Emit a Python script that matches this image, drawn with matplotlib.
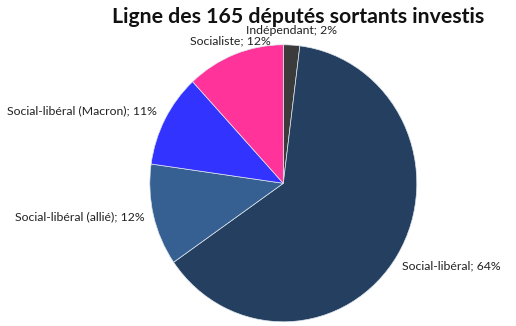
import matplotlib
matplotlib.use("Agg")
import matplotlib.pyplot as plt

title = "Ligne des 165 députés sortants investis"
categories = ["Indépendant", "Social-libéral", "Social-libéral (allié)",
              "Social-libéral (Macron)", "Socialiste"]
shares = [2, 64, 12, 11, 12]
colors = ["#3b3b3b", "#243f60", "#376092", "#3333ff", "#ff3399"]

W, H = 516, 326
fig = plt.figure(figsize=(W / 100, H / 100), dpi=100)
plt.rcParams["font.family"] = ["Lato", "DejaVu Sans"]

# pie centre and radii in pixels
cx, cy, rx, ry = 283.3, 183.3, 133.5, 138.5
ax = fig.add_axes([(cx - rx) / W, (H - cy - ry) / H, 2 * rx / W, 2 * ry / H])
ax.pie(shares, colors=colors, startangle=90, counterclock=False, radius=1,
       wedgeprops=dict(edgecolor="#dfe6ee", linewidth=0.5))
ax.set_xlim(-1, 1)
ax.set_ylim(-1, 1)
ax.set_aspect("auto")
ax.axis("off")

fig.text(298 / W, 1 - 17 / H, title, ha="center", va="center",
         fontsize=15.3, fontweight="bold", color="#111111")

# label anchors in pixels, one per category
anchors = [(291, 31), (451, 266), (80, 217), (82, 111), (230, 41)]
for name, val, (px, py) in zip(categories, shares, anchors):
    fig.text(px / W, 1 - py / H, f"{name}; {val}%", ha="center", va="center",
             fontsize=8.8, color="#222222")

fig.savefig("out.png", dpi=100, facecolor="white")
